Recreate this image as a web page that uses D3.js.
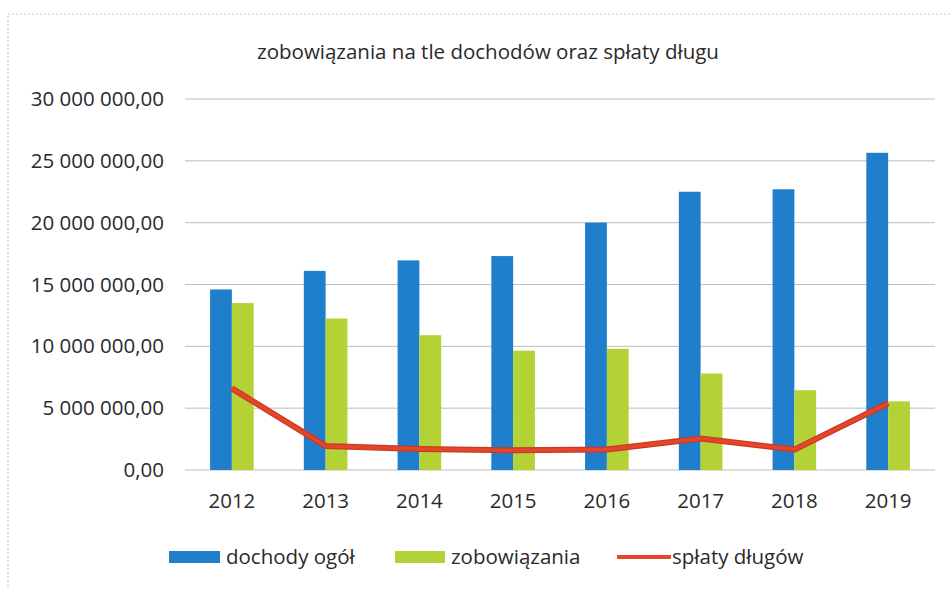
<!DOCTYPE html>
<html>
<head>
<meta charset="utf-8">
<script src="https://cdn.jsdelivr.net/npm/d3@7"></script>
<style>
  body { margin: 0; background: #fff; }
  text { font-family: "Open Sans", sans-serif; fill: #2a2a2a; }
</style>
</head>
<body>
<div id="chart"></div>
<script>
const years = ['2012', '2013', '2014', '2015', '2016', '2017', '2018', '2019'];
const dochody = [14600000, 16100000, 16950000, 17300000, 20000000, 22500000, 22700000, 25650000];
const zobowiazania = [13500000, 12250000, 10900000, 9650000, 9800000, 7800000, 6450000, 5550000];
const splaty = [6600000, 1950000, 1700000, 1600000, 1650000, 2550000, 1650000, 5400000];
const yTicks = [0, 5000000, 10000000, 15000000, 20000000, 25000000, 30000000];
const seriesNames = ['dochody ogół', 'zobowiązania', 'spłaty długów'];

const width = 952;
const height = 589;

const blue = '#1f7fcc';
const green = '#b2d235';
const red = '#e4462c';

const svg = d3.select('#chart')
    .append('svg')
    .attr('width', width)
    .attr('height', height);

// scanned frame
svg.append('rect')
    .attr('x', 8).attr('y', 14)
    .attr('width', 960).attr('height', 600)
    .attr('fill', 'none')
    .attr('stroke', '#c4c4c4')
    .attr('stroke-dasharray', '2,2');

svg.append('text')
    .attr('x', 488)
    .attr('y', 59)
    .attr('text-anchor', 'middle')
    .style('font-size', '20.5px')
    .text('zobowiązania na tle dochodów oraz spłaty długu');

const y = d3.scaleLinear()
    .domain([0, 30000000])
    .range([470, 99]);

const x0 = d3.scaleBand()
    .domain(years)
    .range([185, 935])
    .paddingInner(0.535)
    .paddingOuter(0.2675);

const x1 = d3.scaleBand()
    .domain(['d', 'z'])
    .range([0, x0.bandwidth()]);

const fmt = v => d3.format(',.2f')(v).replace(/,/g, ' ').replace('.', ',');

// grid
svg.append('g')
    .selectAll('line')
    .data(yTicks)
    .enter()
    .append('line')
    .attr('x1', 185).attr('x2', 935)
    .attr('y1', d => y(d)).attr('y2', d => y(d))
    .attr('stroke', '#bdbdbd')
    .attr('stroke-width', 1);

const yAxis = svg.append('g')
    .attr('transform', 'translate(164,0)')
    .call(d3.axisLeft(y).tickValues(yTicks).tickFormat(fmt).tickSize(0).tickPadding(0));
yAxis.select('.domain').remove();
yAxis.selectAll('text')
    .style('font-size', '20.5px')
    .attr('fill', '#2a2a2a');

const xAxis = svg.append('g')
    .attr('transform', 'translate(0,470)')
    .call(d3.axisBottom(x0).tickSize(0).tickPadding(23));
xAxis.select('.domain').remove();
xAxis.selectAll('text')
    .style('font-size', '20.5px')
    .attr('fill', '#2a2a2a');

const groups = svg.append('g')
    .selectAll('g')
    .data(years)
    .enter()
    .append('g')
    .attr('transform', d => `translate(${x0(d)},0)`);

groups.append('rect')
    .attr('x', x1('d'))
    .attr('width', x1.bandwidth())
    .attr('y', (d, i) => y(dochody[i]))
    .attr('height', (d, i) => y(0) - y(dochody[i]))
    .attr('fill', blue);

groups.append('rect')
    .attr('x', x1('z'))
    .attr('width', x1.bandwidth())
    .attr('y', (d, i) => y(zobowiazania[i]))
    .attr('height', (d, i) => y(0) - y(zobowiazania[i]))
    .attr('fill', green);

const line = d3.line()
    .x((d, i) => x0(years[i]) + x0.bandwidth() / 2)
    .y(d => y(d));

svg.append('path')
    .datum(splaty)
    .attr('d', line)
    .attr('fill', 'none')
    .attr('stroke', '#c93a22')
    .attr('stroke-width', 6)
    .attr('stroke-linejoin', 'round');
svg.append('path')
    .datum(splaty)
    .attr('d', line)
    .attr('fill', 'none')
    .attr('stroke', red)
    .attr('stroke-width', 3.5)
    .attr('stroke-linejoin', 'round');

// legend
const legend = svg.append('g');
const legendItems = [
    {name: seriesNames[0], x: 169, w: 51, color: blue, type: 'rect'},
    {name: seriesNames[1], x: 395, w: 50, color: green, type: 'rect'},
    {name: seriesNames[2], x: 617, w: 54, color: red, type: 'line'}
];
legendItems.forEach(it => {
    if (it.type === 'rect') {
        legend.append('rect')
            .attr('x', it.x).attr('y', 551)
            .attr('width', it.w).attr('height', 12)
            .attr('fill', it.color);
    } else {
        legend.append('line')
            .attr('x1', it.x).attr('x2', it.x + it.w)
            .attr('y1', 557).attr('y2', 557)
            .attr('stroke', it.color)
            .attr('stroke-width', 4);
    }
    legend.append('text')
        .attr('x', it.x + it.w + (it.type === 'rect' ? 6 : 1))
        .attr('y', 564)
        .style('font-size', '20.5px')
        .text(it.name);
});
</script>
</body>
</html>
